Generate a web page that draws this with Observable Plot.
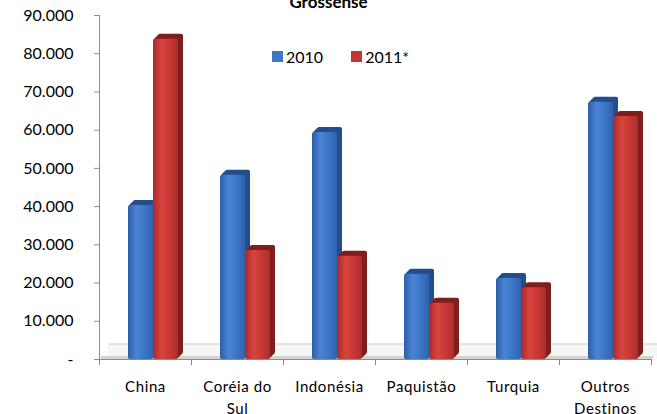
<!DOCTYPE html>
<html><head><meta charset="utf-8">
<script src="https://cdn.jsdelivr.net/npm/d3@7"></script>
<script src="https://cdn.jsdelivr.net/npm/@observablehq/plot@0.6"></script>
<style>
body{margin:0;background:#fff;font-family:Lato,sans-serif;}
#wrap{position:relative;width:657px;height:414px;overflow:hidden;}
#legend{position:absolute;left:272px;top:47px;font-size:16px;color:#000;display:flex;align-items:center;}
#legend span.sw{display:inline-block;width:11px;height:11px;margin-right:3px;}
#legend span.lb{margin-right:28px;}
svg g[aria-label="x-axis tick label"] text{letter-spacing:0.6px;}
</style></head>
<body><div id="wrap"><div id="legend"></div></div>
<script>
const title = "Grossense";
const categories = ["China","Coréia do Sul","Indonésia","Paquistão","Turquia","Outros Destinos"];
const tickLabels = ["China","Coréia do\nSul","Indonésia","Paquistão","Turquia","Outros\nDestinos"];
const series = ["2010","2011*"];
const values2010 = [40300, 48200, 59400, 22300, 21200, 67300];
const values2011 = [83800, 28500, 27000, 14700, 18800, 63600];
const yTicks = [0,10000,20000,30000,40000,50000,60000,70000,80000,90000];

const d2010 = categories.map((c,i)=>({cat:c, v:values2010[i]}));
const d2011 = categories.map((c,i)=>({cat:c, v:values2011[i]}));

const fmt = d => d === 0 ? "-" : d3.format(",")(d).replace(/,/g,".");
const labelOf = d => tickLabels[categories.indexOf(d)];

const blueDark = "#234e8c", redDark = "#7e1e1e";
const depth = 5;
function bars(data, insL, insR, grad, dark){
  const ms = [];
  for (let k = depth; k >= 1; k--) {
    ms.push(Plot.barY(data, {x:"cat", y:"v", insetLeft:insL, insetRight:insR, dx:k, dy:-k, fill:dark, rx:2}));
  }
  ms.push(Plot.barY(data, {x:"cat", y:"v", insetLeft:insL, insetRight:insR, fill:grad, rx:2}));
  return ms;
}

const chart = Plot.plot({
  width: 657, height: 414,
  marginLeft: 99, marginRight: 6, marginTop: 15, marginBottom: 55,
  style: {fontFamily: "Lato, sans-serif", background: "#fff", overflow: "visible"},
  x: {domain: categories, padding: 0, axis: null},
  y: {domain: [0, 90000], axis: null},
  marks: [
    // floor
    Plot.ruleY([0], {stroke: "#f6f6f6", strokeWidth: 14, dy: -8, dx: 8}),
    Plot.ruleY([0], {stroke: "#c8c8c8", strokeWidth: 1, dy: -15.5, dx: 10}),
    Plot.ruleY([0], {stroke: "#d4d4d4", strokeWidth: 3, dy: -2, dx: 2}),
    ...bars(d2010, 29, 38, "url(#gBlue)", blueDark),
    ...bars(d2011, 54, 13, "url(#gRed)", redDark),
    // axes lines
    Plot.ruleX([categories[0]], {dx: -46, stroke: "#8c8c8c"}),
    Plot.ruleY([0], {stroke: "#8c8c8c"}),
    Plot.ruleX(categories, {x: d=>d, y1: ()=>0, y2: ()=>0, dx: -46, insetBottom: -6, stroke: "#8c8c8c"}),
    Plot.ruleX([categories[categories.length-1]], {x: d=>d, y1: ()=>0, y2: ()=>0, dx: 46, insetBottom: -6, stroke: "#8c8c8c"}),
    Plot.axisY({ticks: yTicks, tickFormat: () => "", tickSize: 5, stroke: "#8c8c8c", label: null}),
    Plot.text(yTicks, {y: d=>d, text: fmt, frameAnchor: "left", textAnchor: "end", dx: -26, fontSize: 16, fill: "#000"}),
    Plot.axisX({tickSize: 0, tickPadding: 17, tickFormat: labelOf, fontSize: 15, lineHeight: 1.45, color: "#000", label: null}),
    Plot.text([title], {frameAnchor: "top", lineAnchor: "bottom", dy: -8, dx: -47, fontSize: 17, fontWeight: "bold", fill: "#000"})
  ]
});

const svg = d3.select(chart);
const defs = svg.insert("defs", ":first-child");
function grad(id, stops){
  const g = defs.append("linearGradient").attr("id", id).attr("x1","0").attr("x2","1").attr("y1","0").attr("y2","0");
  stops.forEach(([o,c]) => g.append("stop").attr("offset", o).attr("stop-color", c));
}
grad("gBlue", [[0,"#2d5ea8"],[0.35,"#4a84d4"],[0.6,"#3f78c8"],[1,"#2f62ae"]]);
grad("gRed", [[0,"#a82a2a"],[0.35,"#d8443f"],[0.6,"#cc3a36"],[1,"#ad2c2c"]]);

document.getElementById("wrap").prepend(chart);
const lg = document.getElementById("legend");
[["#3f76c6","2010"],["#c53434","2011*"]].forEach(([c,t])=>{
  const s = document.createElement("span"); s.className="sw"; s.style.background=c; lg.appendChild(s);
  const l = document.createElement("span"); l.className="lb"; l.textContent=t; lg.appendChild(l);
});
</script></body></html>
